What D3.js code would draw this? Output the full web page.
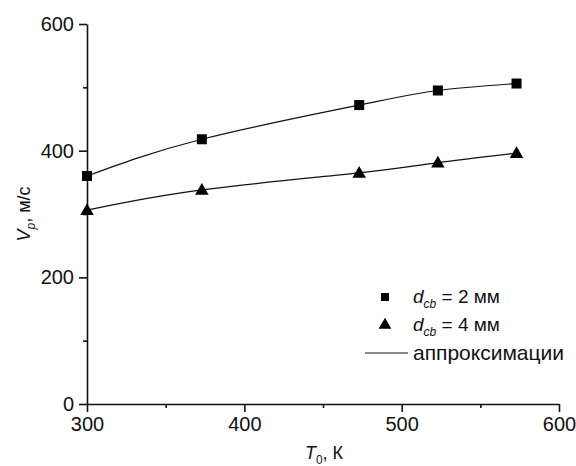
<!DOCTYPE html>
<meta charset="utf-8">
<style>
body { margin: 0; background: #fff; }
text { font-family: "Liberation Sans", Arial, sans-serif; fill: #111; }
.axis path, .axis line { stroke: #111; stroke-width: 1.6px; }
.fit { fill: none; stroke: #111; stroke-width: 1.2px; }
</style>
<body>
<script src="https://d3js.org/d3.v7.min.js"></script>
<script>
// temperatures, K
var temps = [300, 373, 473, 523, 573];
// particle velocity, m/s
var vel2mm = [360, 418, 472, 495, 506];
var vel4mm = [306, 338, 365, 381, 396];

var xTicks = [300, 400, 500, 600],
    xMinor = [350, 450, 550],
    yTicks = [0, 200, 400, 600],
    yMinor = [100, 300, 500];

var width = 576, height = 466;
var margin = {left: 87, right: 17, top: 24, bottom: 62};

var svg = d3.select("body").append("svg")
    .attr("width", width)
    .attr("height", height);

var x = d3.scaleLinear().domain([300, 600]).range([margin.left, width - margin.right]);
var y = d3.scaleLinear().domain([0, 600]).range([height - margin.bottom, margin.top]);

// minor ticks first, then main axes
svg.append("g")
    .attr("class", "axis")
    .attr("transform", "translate(0," + y(0) + ")")
    .call(d3.axisBottom(x).tickValues(xMinor).tickSize(4).tickFormat(""))
    .select(".domain").remove();
svg.append("g")
    .attr("class", "axis")
    .attr("transform", "translate(" + x(300) + ",0)")
    .call(d3.axisLeft(y).tickValues(yMinor).tickSize(4).tickFormat(""))
    .select(".domain").remove();

var gx = svg.append("g")
    .attr("class", "axis")
    .attr("transform", "translate(0," + y(0) + ")")
    .call(d3.axisBottom(x).tickValues(xTicks).tickSize(8).tickSizeOuter(0).tickPadding(5));
gx.selectAll("text").style("font-size", "20px").style("font-family", "Liberation Sans, Arial, sans-serif");

var gy = svg.append("g")
    .attr("class", "axis")
    .attr("transform", "translate(" + x(300) + ",0)")
    .call(d3.axisLeft(y).tickValues(yTicks).tickSize(8).tickSizeOuter(0).tickPadding(5));
gy.selectAll("text").style("font-size", "20px").style("font-family", "Liberation Sans, Arial, sans-serif");

// axis titles
var xt = svg.append("text")
    .attr("x", 324).attr("y", 459)
    .attr("text-anchor", "middle")
    .style("font-size", "18px");
xt.append("tspan").style("font-style", "italic").text("T");
xt.append("tspan").attr("dy", 5).style("font-size", "12px").text("0");
xt.append("tspan").attr("dy", -5).text(", К");

var yt = svg.append("text")
    .attr("transform", "translate(30,214) rotate(-90)")
    .attr("text-anchor", "middle")
    .style("font-size", "18px");
yt.append("tspan").style("font-style", "italic").text("V");
yt.append("tspan").attr("dy", 5).style("font-size", "12px").style("font-style", "italic").text("p");
yt.append("tspan").attr("dy", -5).text(", м/с");

// approximation curves
var line = d3.line()
    .x(function(d, i) { return x(temps[i]); })
    .y(function(d) { return y(d); })
    .curve(d3.curveNatural);

svg.append("path").attr("class", "fit").attr("d", line(vel2mm));
svg.append("path").attr("class", "fit").attr("d", line(vel4mm));

var square = d3.symbol().type(d3.symbolSquare).size(100);
var triangle = d3.symbol().type(d3.symbolTriangle).size(80);

svg.selectAll(".sq").data(vel2mm).enter().append("path")
    .attr("d", square)
    .attr("fill", "#000")
    .attr("transform", function(d, i) { return "translate(" + x(temps[i]) + "," + y(d) + ")"; });

svg.selectAll(".tr").data(vel4mm).enter().append("path")
    .attr("d", triangle)
    .attr("fill", "#000")
    .attr("transform", function(d, i) { return "translate(" + x(temps[i]) + "," + (y(d) + 1) + ")"; });

// legend
var lg = svg.append("g");
lg.append("path").attr("d", d3.symbol().type(d3.symbolSquare).size(64))
    .attr("transform", "translate(385,297)");
lg.append("path").attr("d", d3.symbol().type(d3.symbolTriangle).size(70))
    .attr("transform", "translate(385,325)");
lg.append("line").attr("x1", 365).attr("x2", 408).attr("y1", 353).attr("y2", 353)
    .attr("stroke", "#111").attr("stroke-width", 1);

function dLabel(yy, val) {
  var t = lg.append("text").attr("x", 413).attr("y", yy).style("font-size", "19px");
  t.append("tspan").style("font-style", "italic").text("d");
  t.append("tspan").attr("dy", 5).style("font-size", "12px").style("font-style", "italic").text("cb");
  t.append("tspan").attr("dy", -5).text(" = " + val + " мм");
}
dLabel(303, 2);
dLabel(331, 4);
lg.append("text").attr("x", 413).attr("y", 360).style("font-size", "21px").text("аппроксимации");
</script>
